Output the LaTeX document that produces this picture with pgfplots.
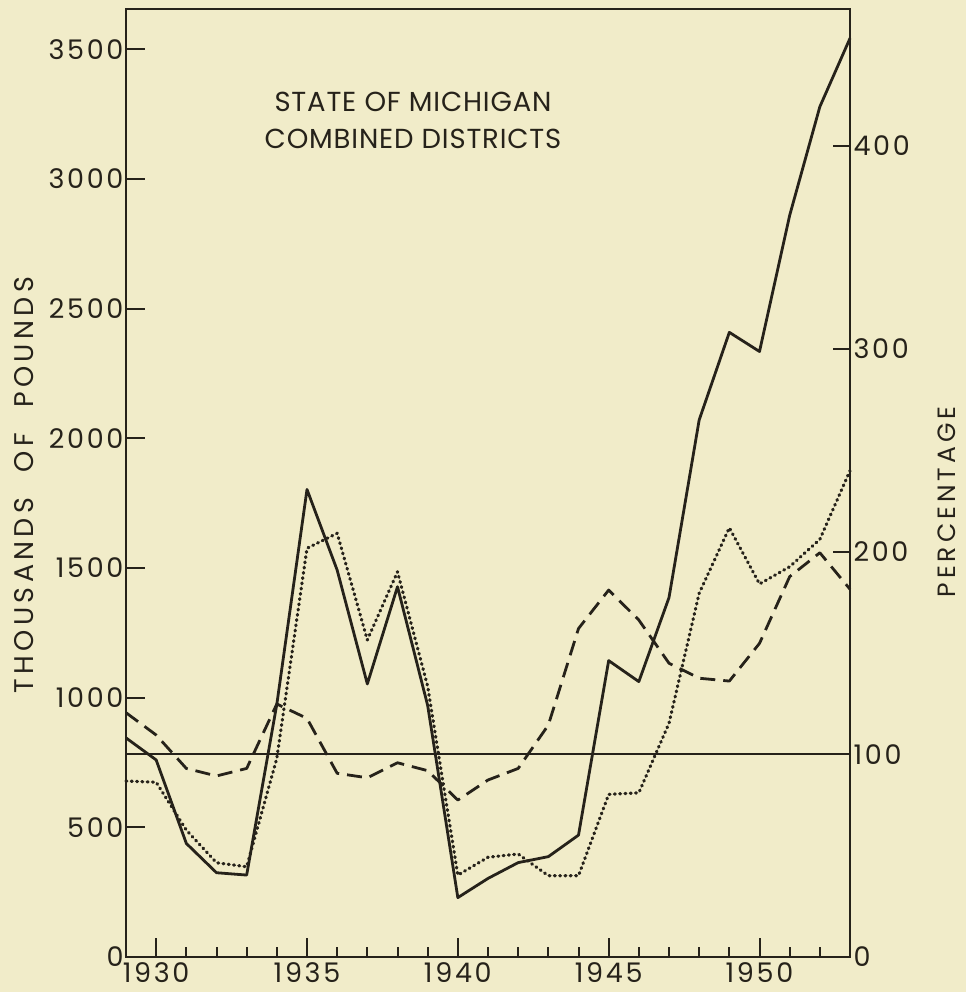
\documentclass[border=0pt]{standalone}
\usepackage{pgfplots}
\usepackage{pgfplotstable}
\pgfplotsset{compat=1.18}
\usepackage{fontspec}
\setmainfont{Poppins}
\newfontfamily\tickfont[LetterSpace=10]{Poppins}
\newfontfamily\labfont[LetterSpace=16]{Poppins}
\newfontfamily\annfont[LetterSpace=3]{Poppins}
\definecolor{bg}{RGB}{241,236,201}
\definecolor{ink}{RGB}{38,34,26}

\pgfplotstableread{
year solid dotted dashed
1929 845 86.8 120.5
1930 760 86.2 109.5
1931 438 62.6 93.0
1932 325 46.5 89.3
1933 316 44.5 93.0
1934 975 98.0 124.8
1935 1803 201.6 117.7
1936 1492 209.0 90.6
1937 1053 156.4 88.4
1938 1428 190.0 95.8
1939 970 133.5 91.9
1940 229 40.4 77.4
1941 303 49.2 87.3
1942 364 50.8 93.0
1943 387 40.1 114.4
1944 470 40.1 162.0
1945 1143 80.2 181.0
1946 1062 81.0 166.2
1947 1386 115.3 144.9
1948 2071 179.4 137.5
1949 2409 211.7 136.1
1950 2335 184.0 154.7
1951 2860 192.5 187.6
1952 3279 206.0 199.4
1953 3543 239.9 181.4
}\datatable

\begin{document}
\begin{tikzpicture}
\fill[bg] (-126pt,-35pt) rectangle (840pt,957pt);
\begin{axis}[
  at={(0pt,0pt)}, anchor=south west,
  width=724pt, height=948pt, scale only axis,
  xmin=1929, xmax=1953, ymin=0, ymax=3656,
  axis line style={ink, line width=2.4pt},
  xtick={1930,1935,1940,1945,1950},
  xticklabels={1930,1935,1940,1945,1950},
  minor xtick={1931,1932,1933,1934,1936,1937,1938,1939,1941,1942,1943,1944,1946,1947,1948,1949,1951,1952},
  ytick={0,500,1000,1500,2000,2500,3000,3500},
  yticklabels={0,500,1000,1500,2000,2500,3000,3500},
  xtick pos=left, ytick pos=left,
  tick align=inside,
  major tick length=19pt, minor tick length=10pt,
  every tick/.style={ink, line width=2pt},
  tick label style={font=\tickfont\fontsize{27}{30}\selectfont, text=ink},
  xticklabel style={yshift=-2pt},
  yticklabel style={xshift=1pt},
  /pgf/number format/assume math mode=true,
  clip=false,
]
\addplot[ink, line width=2.8pt, line join=round] table[x=year, y=solid] {\datatable};
\end{axis}
\begin{axis}[
  at={(0pt,0pt)}, anchor=south west,
  width=724pt, height=948pt, scale only axis,
  xmin=1929, xmax=1953, ymin=0, ymax=467.6,
  axis x line=none, axis y line*=right,
  axis line style={ink, line width=2.4pt},
  ytick={0,100,200,300,400},
  yticklabels={0,100,200,300,400},
  ytick pos=right,
  tick align=inside,
  major tick length=17pt,
  every tick/.style={ink, line width=2pt},
  tick label style={font=\tickfont\fontsize{27}{30}\selectfont, text=ink},
  /pgf/number format/assume math mode=true,
  clip=false,
]
\addplot[ink, line width=2.4pt] coordinates {(1929,100) (1953,100)};
\addplot[ink, line width=2.8pt, dash pattern=on 15pt off 8pt, line join=round] table[x=year, y=dashed] {\datatable};
\addplot[ink, line width=3.2pt, dash pattern=on 0.9pt off 4.4pt, line cap=round, line join=round] table[x=year, y=dotted] {\datatable};
\end{axis}
\node[rotate=90, font=\labfont\fontsize{27}{30}\selectfont, text=ink] at (-102pt,472pt) {THOUSANDS\hspace{14pt} OF\hspace{14pt} POUNDS};
\node[rotate=90, font=\labfont\fontsize{25}{30}\selectfont, text=ink] at (821pt,455pt) {PERCENTAGE};
\node[font=\annfont\fontsize{27.5}{37}\selectfont, text=ink, align=center] at (287pt,836.5pt) {STATE OF MICHIGAN\\COMBINED DISTRICTS};
\pgfresetboundingbox
\useasboundingbox (-126pt,-35pt) rectangle (840pt,957pt);
\end{tikzpicture}
\end{document}
